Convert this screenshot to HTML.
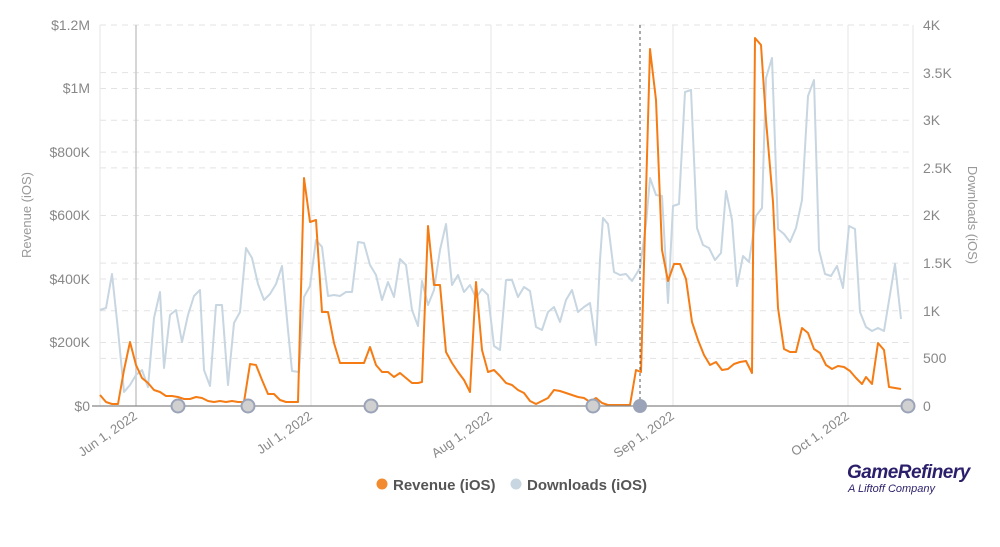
<!DOCTYPE html>
<html><head><meta charset="utf-8"><style>
body{margin:0;background:#fff;width:1000px;height:542px;overflow:hidden;font-family:"Liberation Sans",sans-serif}
</style></head><body>
<svg width="1000" height="542" viewBox="0 0 1000 542" xmlns="http://www.w3.org/2000/svg" font-family="Liberation Sans, sans-serif">
<g stroke="#e3e3e3" stroke-width="1" stroke-dasharray="6,5">
<line x1="100" x2="913" y1="25" y2="25"/>
<line x1="100" x2="913" y1="88.5" y2="88.5"/>
<line x1="100" x2="913" y1="152" y2="152"/>
<line x1="100" x2="913" y1="215.5" y2="215.5"/>
<line x1="100" x2="913" y1="279" y2="279"/>
<line x1="100" x2="913" y1="342.5" y2="342.5"/>
<line x1="100" x2="913" y1="72.6" y2="72.6"/>
<line x1="100" x2="913" y1="120.3" y2="120.3"/>
<line x1="100" x2="913" y1="167.9" y2="167.9"/>
<line x1="100" x2="913" y1="263.1" y2="263.1"/>
<line x1="100" x2="913" y1="310.8" y2="310.8"/>
<line x1="100" x2="913" y1="358.4" y2="358.4"/>
</g>
<g stroke="#e8e8e8" stroke-width="1.2">
<line x1="100" x2="100" y1="25" y2="406"/>
<line x1="311" x2="311" y1="25" y2="406"/>
<line x1="491" x2="491" y1="25" y2="406"/>
<line x1="673" x2="673" y1="25" y2="406"/>
<line x1="848" x2="848" y1="25" y2="406"/>
<line x1="913" x2="913" y1="25" y2="406"/>
</g>
<line x1="136" x2="136" y1="25" y2="406" stroke="#c8c8c8" stroke-width="1.5"/>
<g fill="#888" font-size="14" text-anchor="end">
<text x="90" y="30">$1.2M</text><text x="90" y="93">$1M</text><text x="90" y="157">$800K</text>
<text x="90" y="220">$600K</text><text x="90" y="284">$400K</text><text x="90" y="347">$200K</text><text x="90" y="411">$0</text>
</g>
<g fill="#888" font-size="14">
<text x="923" y="30">4K</text><text x="923" y="78">3.5K</text><text x="923" y="125">3K</text><text x="923" y="173">2.5K</text>
<text x="923" y="220">2K</text><text x="923" y="268">1.5K</text><text x="923" y="316">1K</text><text x="923" y="363">500</text><text x="923" y="411">0</text>
</g>
<text transform="translate(31,215) rotate(-90)" fill="#999" font-size="13" text-anchor="middle">Revenue (iOS)</text>
<text transform="translate(968,215) rotate(90)" fill="#999" font-size="13" text-anchor="middle">Downloads (iOS)</text>
<g fill="#888" font-size="13" text-anchor="end">
<text transform="translate(138,418) rotate(-35)">Jun 1, 2022</text>
<text transform="translate(313,418) rotate(-35)">Jul 1, 2022</text>
<text transform="translate(493,418) rotate(-35)">Aug 1, 2022</text>
<text transform="translate(675,418) rotate(-35)">Sep 1, 2022</text>
<text transform="translate(850,418) rotate(-35)">Oct 1, 2022</text>
</g>
<polyline fill="none" stroke="#c7d6e1" stroke-width="2" stroke-linejoin="round" points="100,310 106,308 112,274 118,330 124,392 130,385 136,375 142,370 148,387 154,318 160,292 164,368 170,315 176,310 182,342 188,315 194,296 200,290 204,370 210,386 216,305 222,305 228,385 234,323 240,312 246,248 252,258 258,284 264,300 270,294 276,284 282,266 288,330 292,371 299,372 304,297 310,286 316,240 322,247 328,296 334,295 340,296 346,292 352,292 358,242 364,243 370,265 376,275 382,300 388,282 394,297 400,259 406,265 412,310 418,326 422,281 428,305 434,290 440,250 446,224 452,285 458,275 464,292 470,285 476,298 482,289 488,295 494,346 500,350 506,280 512,280 518,297 524,287 530,291 536,327 542,330 548,312 554,307 560,322 566,300 572,290 578,312 584,307 590,303 596,345 600,260 603,218 608,224 614,272 620,275 626,274 632,281 640,268 646,224 650,178 656,195 662,196 668,303 673,206 679,204 685,92 691,90 697,228 703,245 709,248 715,260 721,253 726,191 732,220 737,286 743,256 749,262 756,216 762,208 766,78 772,58 778,229 784,234 790,242 796,228 802,200 808,96 814,80 819,250 825,274 831,276 837,266 843,288 849,226 855,229 860,312 866,327 872,331 878,328 884,331 895,264 901,319"/>
<polyline fill="none" stroke="#f57c14" stroke-width="2" stroke-linejoin="round" points="100,395 106,402 112,404 118,404 124,370 130,342 136,365 142,378 148,383 154,390 160,392 166,396 172,396 178,397 184,399 190,399 196,397 202,398 208,401 214,402 220,401 226,402 232,401 238,402 244,402 250,364 256,365 262,380 268,394 274,394 280,400 286,402 292,402 298,402 304,178 310,222 316,220 322,312 328,312 334,343 340,363 346,363 352,363 358,363 364,363 370,347 376,365 382,372 388,372 394,377 400,373 406,378 412,383 418,383 422,382 428,226 434,285 440,285 446,352 452,363 458,372 464,380 470,392 476,282 482,350 488,372 494,370 500,376 506,383 512,385 518,390 524,393 530,401 536,404 542,401 548,398 554,390 560,391 566,393 572,395 578,397 584,398 590,402 596,398 602,403 608,405 614,405 620,405 630,405 636,370 641,372 650,49 656,100 662,250 668,281 674,264 680,264 686,279 692,322 698,340 704,355 710,365 716,362 722,370 728,369 734,364 740,362 746,361 752,373 755,38 761,45 766,120 773,202 778,308 784,349 790,352 796,352 802,328 808,333 814,349 820,353 826,365 832,369 838,366 844,367 850,371 856,378 862,384 866,377 872,384 878,343 884,350 889,387 895,388 901,389"/>
<line x1="640" x2="640" y1="25" y2="406" stroke="#555" stroke-width="1" stroke-dasharray="3,3"/>
<line x1="92" x2="913" y1="406" y2="406" stroke="#888" stroke-width="1.2"/>
<g fill="#d0d0d0" stroke="#9aa3b8" stroke-width="2">
<circle cx="178" cy="406" r="6.5"/><circle cx="248" cy="406" r="6.5"/><circle cx="371" cy="406" r="6.5"/><circle cx="593" cy="406" r="6.5"/><circle cx="908" cy="406" r="6.5"/>
</g>
<circle cx="640" cy="406" r="7" fill="#9aa3b8"/>
<circle cx="382" cy="484" r="5.5" fill="#f28a30"/>
<text x="393" y="490" font-size="15" font-weight="bold" fill="#555">Revenue (iOS)</text>
<circle cx="516" cy="484" r="5.5" fill="#c7d6e1"/>
<text x="527" y="490" font-size="15" font-weight="bold" fill="#555">Downloads (iOS)</text>
<text x="847" y="478" font-size="19" font-weight="bold" font-style="italic" fill="#2b1f6b" letter-spacing="-0.5">GameRefinery</text>
<text x="848" y="492" font-size="11" font-style="italic" fill="#2b1f6b">A Liftoff Company</text>
</svg>
</body></html>
